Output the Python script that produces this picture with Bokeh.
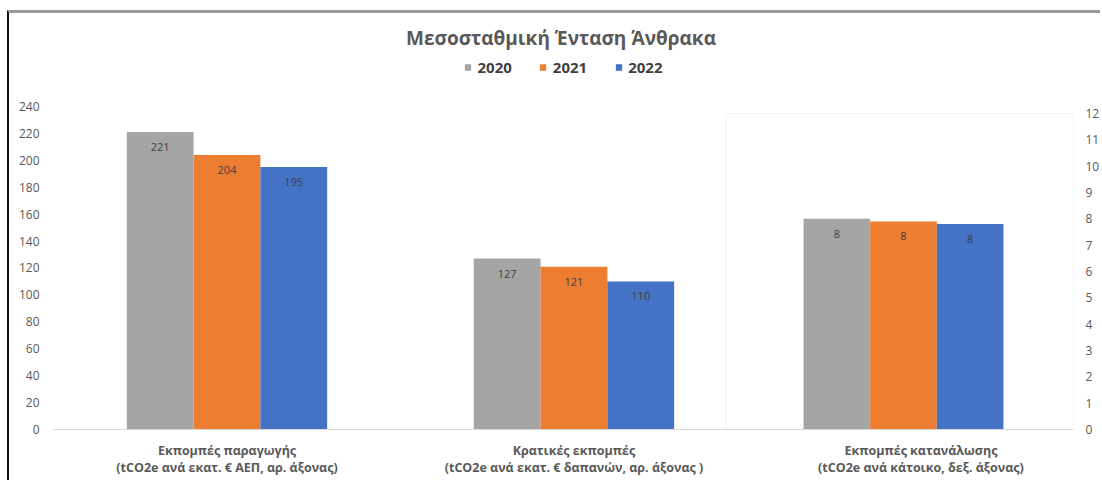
from bokeh.plotting import figure
from bokeh.models import (Range1d, LinearAxis, FixedTicker, Legend, LegendItem,
                          Label, BoxAnnotation)
from bokeh.core.properties import value
from bokeh.embed import file_html
from bokeh.resources import INLINE

# ---------------- data ----------------
chart_title = "Μεσοσταθμική Ένταση Άνθρακα"
years = ["2020", "2021", "2022"]
categories = [
    "Εκπομπές παραγωγής\n(tCO2e ανά εκατ. € ΑΕΠ, αρ. άξονας)",
    "Κρατικές εκπομπές\n(tCO2e ανά εκατ. € δαπανών, αρ. άξονας )",
    "Εκπομπές κατανάλωσης\n(tCO2e ανά κάτοικο, δεξ. άξονας)",
]
production = [221, 204, 195]      # primary axis
government = [127, 121, 110]      # primary axis
consumption = [8.0, 7.9, 7.8]     # secondary axis
left_ticks = [0, 20, 40, 60, 80, 100, 120, 140, 160, 180, 200, 220, 240]
right_ticks = [0, 1, 2, 3, 4, 5, 6, 7, 8, 9, 10, 11, 12]
colors = ["#a5a5a5", "#ed7d31", "#4472c4"]

FONT = "Open Sans"
GRAY = "#595959"

# ---------------- figure ----------------
p = figure(width=1093, height=470, output_backend="svg", toolbar_location=None,
           x_range=Range1d(0, 2.9397), y_range=Range1d(0, 309.1),
           min_border_left=44, min_border_right=26, min_border_top=0,
           min_border_bottom=54, outline_line_color=None,
           background_fill_color="white", border_fill_color="white")
# outer frame of the chart image (left and top edges)
p.styles = {"margin-left": "7px", "margin-top": "10px",
            "border-left": "2px solid #111111", "border-top": "3px solid #9a9a9a"}
p.extra_x_ranges = {"sec": Range1d(0, 3)}
p.extra_y_ranges = {"sec": Range1d(0, 15.797)}
p.xgrid.visible = False
p.ygrid.visible = False

# secondary plot-area outline
p.add_layout(BoxAnnotation(left=1.978, right=3.0, bottom=0, top=right_ticks[-1],
                           x_range_name="sec", y_range_name="sec",
                           fill_color=None, line_color="#c5d3ea", line_width=1))

w1 = 0.1925
w2 = 0.196
renderers = []
for i, yr in enumerate(years):
    off1 = (i - 1) * w1
    xs = [0.5 + off1, 1.5 + off1]
    tops = [production[i], government[i]]
    r = p.vbar(x=xs, top=tops, width=w1, fill_color=colors[i], line_color=None)
    renderers.append(r)
    p.text(x=xs, y=tops, text=[str(v) for v in tops], y_offset=15,
           text_align="center", text_baseline="middle",
           text_font=value(FONT), text_font_size="11px", text_color="#404040")
    off2 = (i - 1) * w2
    xs2 = [2.5 + off2]
    p.vbar(x=xs2, top=[consumption[i]], width=w2, fill_color=colors[i],
           line_color=None, x_range_name="sec", y_range_name="sec")
    p.text(x=xs2, y=[consumption[i]], text=[f"{consumption[i]:.0f}"], y_offset=15,
           text_align="center", text_baseline="middle",
           text_font=value(FONT), text_font_size="11px", text_color="#404040",
           x_range_name="sec", y_range_name="sec")


def no_ticks(ax):
    ax.major_tick_line_color = None
    ax.minor_tick_line_color = None
    ax.major_tick_out = 0
    ax.major_tick_in = 0
    ax.minor_tick_out = 0
    ax.minor_tick_in = 0


# ---------------- axes ----------------
xa = p.xaxis[0]
xa.ticker = FixedTicker(ticks=[0.5, 1.5, 2.5])
xa.major_label_overrides = {0.5: categories[0], 1.5: categories[1], 2.5: categories[2]}
xa.axis_line_color = "#d9d9d9"
no_ticks(xa)
xa.major_label_standoff = 12
xa.major_label_text_font = FONT
xa.major_label_text_font_size = "12.5px"
xa.major_label_text_font_style = "bold"
xa.major_label_text_color = GRAY
xa.major_label_text_line_height = 1.0

ya = p.yaxis[0]
ya.ticker = FixedTicker(ticks=left_ticks)
ya.axis_line_color = None
no_ticks(ya)
ya.major_label_standoff = 14
ya.major_label_text_font = FONT
ya.major_label_text_font_size = "12px"
ya.major_label_text_color = GRAY

ra = LinearAxis(y_range_name="sec", ticker=FixedTicker(ticks=right_ticks))
ra.axis_line_color = None
no_ticks(ra)
ra.major_label_standoff = 12
ra.major_label_text_font = FONT
ra.major_label_text_font_size = "12px"
ra.major_label_text_color = GRAY
p.add_layout(ra, "right")

# ---------------- title & legend ----------------
p.add_layout(Label(x=1.4626, y=290.7, text=chart_title, text_align="center",
                   text_baseline="middle", text_font=FONT, text_font_size="19px",
                   text_font_style="bold", text_color=GRAY))

legend = Legend(items=[LegendItem(label=yr, renderers=[r]) for yr, r in zip(years, renderers)],
                orientation="horizontal", location="top_center", margin=44, padding=0,
                spacing=27, glyph_width=8, glyph_height=8, label_standoff=6,
                border_line_color=None, background_fill_alpha=0,
                label_text_font=FONT, label_text_font_size="15px",
                label_text_font_style="bold", label_text_color="#404040")
p.add_layout(legend, "center")

open("out.html", "w").write(file_html(p, INLINE))
